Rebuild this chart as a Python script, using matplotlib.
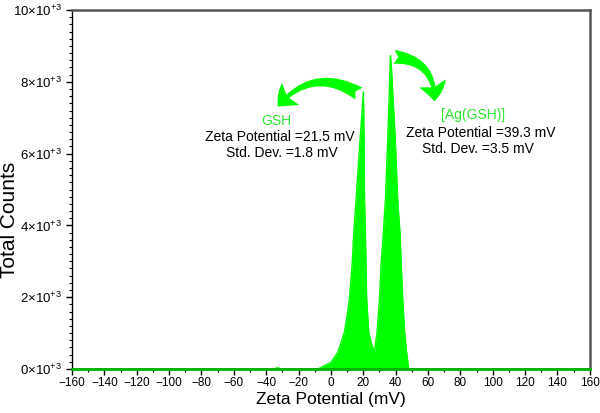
import matplotlib
matplotlib.use("Agg")
import matplotlib.pyplot as plt
from matplotlib.patches import FancyArrowPatch
from matplotlib.ticker import MultipleLocator, FixedLocator, FuncFormatter

plt.rcParams['font.family'] = ['Liberation Sans', 'DejaVu Sans']
plt.rcParams['mathtext.fontset'] = 'custom'
plt.rcParams['mathtext.rm'] = 'Liberation Sans'
plt.rcParams['mathtext.it'] = 'Liberation Sans'
plt.rcParams['mathtext.default'] = 'regular'

# Zeta potential distribution (mV) and total counts
zeta_mv = [-160, -35, -33, -31, -8, -6.1, 0.1, 4.2, 6.3, 8.3, 10.0, 11.4, 13.1, 14.1,
           15.6, 18.0, 20.1, 20.5, 20.8, 21.3, 21.7, 22.1, 23.4, 24.8, 26.9,
           28.5, 30.0, 31.0, 32.4, 33.7, 35.1, 36.8, 37.4, 39.8, 41.3, 42.7,
           43.5, 44.4, 45.6, 46.6, 48.1, 160]
counts = [0, 0, 40, 0, 0, 46, 186, 464, 743, 1022, 1485, 1950, 2878, 3808,
          4736, 6380, 7720, 6380, 4700, 3800, 2900, 1950, 1022, 743, 480,
          1022, 1950, 2900, 3808, 4736, 6380, 8730, 8400, 6380, 4700, 3800,
          2900, 1950, 1022, 530, 0, 0]

x_ticks = list(range(-160, 161, 20))
y_ticks = [0, 2000, 4000, 6000, 8000, 10000]

fig = plt.figure(figsize=(6.0, 4.13), dpi=100)
ax = fig.add_axes([0.12, 0.1065, 0.863, 0.8693])

green = '#00ff00'
ax.fill_between(zeta_mv, counts, 0, color=green, lw=0, zorder=2)
ax.plot(zeta_mv, counts, color=green, lw=1.0, zorder=3)
ax.plot([-160, 160], [0, 0], color='#00b000', lw=2.0, zorder=4, clip_on=False)

ax.set_xlim(-160, 160)
ax.set_ylim(0, 10000)
ax.xaxis.set_major_locator(FixedLocator(x_ticks))
ax.xaxis.set_minor_locator(MultipleLocator(10))
ax.yaxis.set_major_locator(FixedLocator(y_ticks))
ax.yaxis.set_minor_locator(MultipleLocator(200))
ax.xaxis.set_major_formatter(FuncFormatter(lambda v, p: f'{int(v)}'.replace('-', '\u2212')))
ax.yaxis.set_major_formatter(FuncFormatter(lambda v, p: f'{int(v/1000)}\u00d710$^{{+3}}$'))

ax.tick_params(axis='both', which='major', direction='out', length=4, width=1,
               colors='black', pad=2)
ax.tick_params(axis='x', which='major', labelsize=8.5)
ax.tick_params(axis='y', which='major', labelsize=9.5, pad=3)
ax.tick_params(axis='both', which='minor', direction='out', length=2, width=0.8)

for s in ['top', 'right']:
    ax.spines[s].set_color('#555555')
    ax.spines[s].set_linewidth(1.8)
for s in ['left', 'bottom']:
    ax.spines[s].set_color('black')
    ax.spines[s].set_linewidth(1.0)

ax.set_xlabel('Zeta Potential (mV)', fontsize=12.5, labelpad=2)
ax.set_ylabel('Total Counts', fontsize=15)
ax.yaxis.set_label_coords(-0.102, 0.415)

# Annotation texts
txt_green = '#2ee82e'
ax.text(-33.7, 6909, 'GSH', ha='center', va='center', fontsize=10, color=txt_green)
ax.text(-31.8, 6464, 'Zeta Potential =21.5 mV', ha='center', va='center', fontsize=10)
ax.text(-30.6, 6018, 'Std. Dev. =1.8 mV', ha='center', va='center', fontsize=10)

ax.text(88.0, 7076, '[Ag(GSH)]', ha='center', va='center', fontsize=10, color=txt_green)
ax.text(92.3, 6575, 'Zeta Potential =39.3 mV', ha='center', va='center', fontsize=10)
ax.text(91.1, 6129, 'Std. Dev. =3.5 mV', ha='center', va='center', fontsize=10)

# Curved arrows
style = 'fancy,head_length=1.3,head_width=2.0,tail_width=1.0'
a1 = FancyArrowPatch((18.8, 7630), (-34.0, 7250), connectionstyle='arc3,rad=0.45',
                     arrowstyle=style, mutation_scale=10, color=green, lw=0, zorder=5)
a2 = FancyArrowPatch((37.4, 8700), (64.0, 7380), connectionstyle='arc3,rad=-0.5',
                     arrowstyle=style, mutation_scale=10, color=green, lw=0, zorder=5)
ax.add_patch(a1)
ax.add_patch(a2)

fig.savefig('out.png', dpi=100)
